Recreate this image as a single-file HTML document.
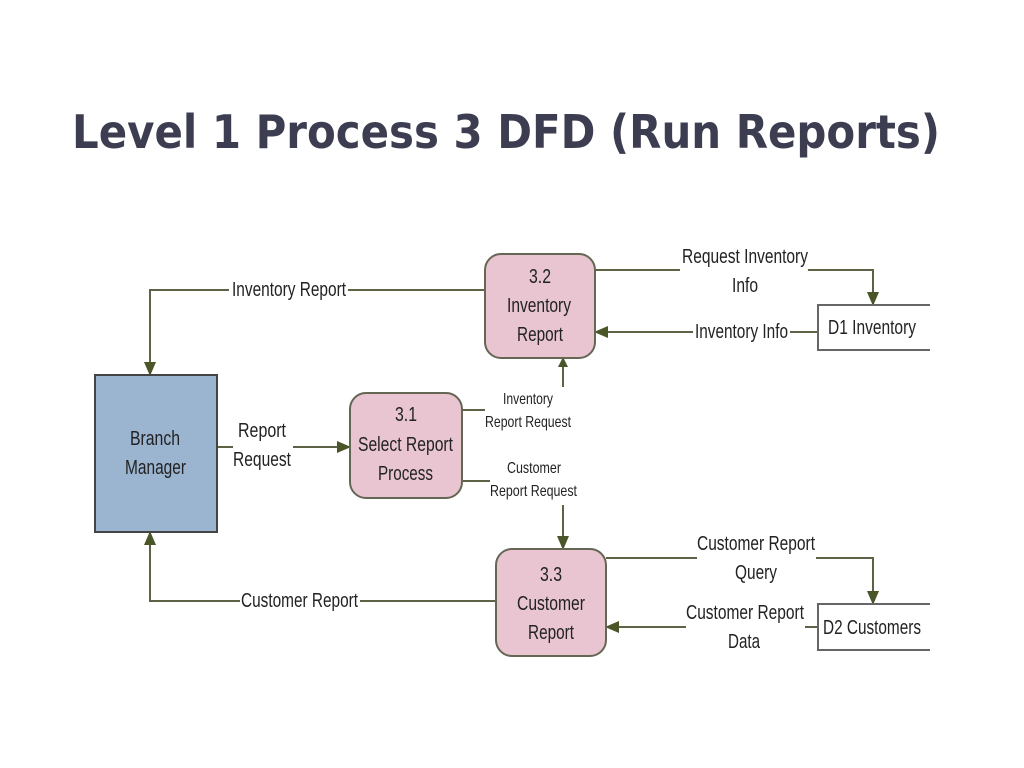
<!DOCTYPE html>
<html><head><meta charset="utf-8"><style>
html,body{margin:0;padding:0;background:#fff;}
svg{display:block;}
text{font-family:"Liberation Sans",sans-serif;fill:#222;}
</style></head><body>
<svg width="1024" height="768" viewBox="0 0 1024 768" xmlns="http://www.w3.org/2000/svg">
<defs>
<marker id="a" markerWidth="10" markerHeight="10" refX="9" refY="5" orient="auto" markerUnits="userSpaceOnUse" viewBox="0 0 10 10">
<path d="M0,0 L10,5 L0,10 z" fill="#4a5528"/></marker>
<marker id="b" markerWidth="14" markerHeight="14" refX="13" refY="7" orient="auto" markerUnits="userSpaceOnUse" viewBox="0 0 14 14">
<path d="M0,1 L14,7 L0,13 z" fill="#4a5528"/></marker>
</defs>
<text x="72" y="148" font-weight="bold" font-size="46" style="font-family:'DejaVu Sans','Liberation Sans',sans-serif;fill:#3d3d52" textLength="868" lengthAdjust="spacingAndGlyphs">Level 1 Process 3 DFD (Run Reports)</text>

<g fill="none" stroke="#5c6445" stroke-width="2">
<path d="M485,290 H348 M229,290 H150 V375" marker-end="url(#b)"/>
<path d="M496,601 H360 M240,601 H150 V532" marker-end="url(#b)"/>
<path d="M217,447 H233"/><path d="M293,447 H350" marker-end="url(#b)"/>
<path d="M462,410 H485"/><path d="M563,387 V358" marker-end="url(#a)"/>
<path d="M462,481 H490"/><path d="M563,505 V549" marker-end="url(#b)"/>
<path d="M595,270 H680"/><path d="M808,270 H873 V305" marker-end="url(#b)"/>
<path d="M818,332 H790"/><path d="M693,332 H595" marker-end="url(#b)"/>
<path d="M606,558 H697"/><path d="M816,558 H873 V604" marker-end="url(#b)"/>
<path d="M818,627 H805"/><path d="M686,627 H606" marker-end="url(#b)"/>
</g>

<rect x="95" y="375" width="122" height="157" fill="#9bb4d0" stroke="#444" stroke-width="2"/>
<rect x="350" y="393" width="112" height="105" rx="16" fill="#e8c5d0" stroke="#666655" stroke-width="2"/>
<rect x="485" y="254" width="110" height="104" rx="16" fill="#e8c5d0" stroke="#666655" stroke-width="2"/>
<rect x="496" y="549" width="110" height="107" rx="16" fill="#e8c5d0" stroke="#666655" stroke-width="2"/>

<g stroke="#666" stroke-width="2" fill="none">
<path d="M930,305 H818 V350 H930"/>
<path d="M930,604 H818 V650 H930"/>
</g>

<g font-size="20">
<text x="130" y="445" textLength="50" lengthAdjust="spacingAndGlyphs">Branch</text>
<text x="125" y="474" textLength="61" lengthAdjust="spacingAndGlyphs">Manager</text>
<text x="395" y="421" textLength="22" lengthAdjust="spacingAndGlyphs">3.1</text>
<text x="358" y="451" textLength="95" lengthAdjust="spacingAndGlyphs">Select Report</text>
<text x="378" y="480" textLength="55" lengthAdjust="spacingAndGlyphs">Process</text>
<text x="529" y="283" textLength="22" lengthAdjust="spacingAndGlyphs">3.2</text>
<text x="507" y="312" textLength="64" lengthAdjust="spacingAndGlyphs">Inventory</text>
<text x="517" y="341" textLength="46" lengthAdjust="spacingAndGlyphs">Report</text>
<text x="540" y="581" textLength="22" lengthAdjust="spacingAndGlyphs">3.3</text>
<text x="517" y="610" textLength="68" lengthAdjust="spacingAndGlyphs">Customer</text>
<text x="528" y="639" textLength="46" lengthAdjust="spacingAndGlyphs">Report</text>
<text x="232" y="296" textLength="114" lengthAdjust="spacingAndGlyphs">Inventory Report</text>
<text x="241" y="607" textLength="117" lengthAdjust="spacingAndGlyphs">Customer Report</text>
<text x="238" y="437" textLength="48" lengthAdjust="spacingAndGlyphs">Report</text>
<text x="233" y="466" textLength="58" lengthAdjust="spacingAndGlyphs">Request</text>
<text x="682" y="263" textLength="126" lengthAdjust="spacingAndGlyphs">Request Inventory</text>
<text x="732" y="292" textLength="26" lengthAdjust="spacingAndGlyphs">Info</text>
<text x="695" y="338" textLength="93" lengthAdjust="spacingAndGlyphs">Inventory Info</text>
<text x="697" y="550" textLength="118" lengthAdjust="spacingAndGlyphs">Customer Report</text>
<text x="735" y="579" textLength="42" lengthAdjust="spacingAndGlyphs">Query</text>
<text x="686" y="619" textLength="118" lengthAdjust="spacingAndGlyphs">Customer Report</text>
<text x="728" y="648" textLength="32" lengthAdjust="spacingAndGlyphs">Data</text>
<text x="828" y="334" textLength="88" lengthAdjust="spacingAndGlyphs">D1 Inventory</text>
<text x="823" y="634" textLength="98" lengthAdjust="spacingAndGlyphs">D2 Customers</text>
</g>
<g font-size="16">
<text x="503" y="404" textLength="50" lengthAdjust="spacingAndGlyphs">Inventory</text>
<text x="485" y="427" textLength="86" lengthAdjust="spacingAndGlyphs">Report Request</text>
<text x="507" y="473" textLength="54" lengthAdjust="spacingAndGlyphs">Customer</text>
<text x="490" y="496" textLength="87" lengthAdjust="spacingAndGlyphs">Report Request</text>
</g>
</svg>
</body></html>
